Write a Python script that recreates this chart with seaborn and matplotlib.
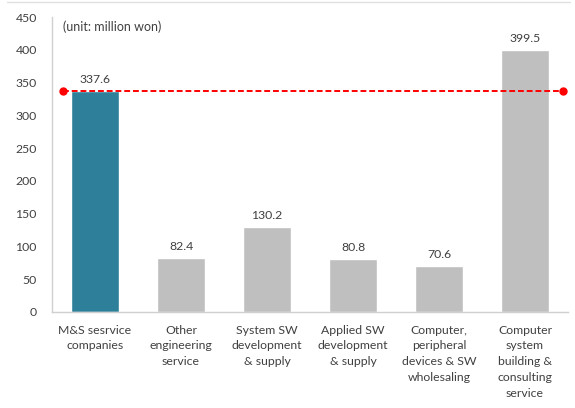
import numpy as np
import pandas as pd
import matplotlib
matplotlib.use('Agg')
import matplotlib.pyplot as plt
from matplotlib.lines import Line2D
import seaborn as sns

categories = ['M&S sesrvice\ncompanies', 'Other\nengineering\nservice',
              'System SW\ndevelopment\n& supply', 'Applied SW\ndevelopment\n& supply',
              'Computer,\nperipheral\ndevices & SW\nwholesaling',
              'Computer\nsystem\nbuilding &\nconsulting\nservice']
values = [337.6, 82.4, 130.2, 80.8, 70.6, 399.5]
bar_colors = ['#2E7F99', '#BFBFBF', '#BFBFBF', '#BFBFBF', '#BFBFBF', '#BFBFBF']
ref_value = 337.6

sns.set_style('white')
plt.rcParams['font.family'] = ['Lato', 'DejaVu Sans']

df = pd.DataFrame({'cat': categories, 'val': values})

fig = plt.figure(figsize=(5.75, 4.08), dpi=100)
ax = fig.add_axes([52/575, 96/408, 516/575, 295/408])

sns.barplot(data=df, x='cat', y='val', hue='cat', palette=bar_colors,
            width=0.56, legend=False, ax=ax, saturation=1)

# reference line (red dashed with dots at ends)
ax.plot([-0.37, 5.44], [ref_value, ref_value], color='#FF0000', linestyle='--',
        linewidth=1.4, dashes=(3, 1.5), zorder=5)
ax.plot([-0.37, 5.44], [ref_value, ref_value], 'o', color='#FF0000',
        markersize=5, zorder=6)

for i, v in enumerate(values):
    ax.text(i, v + 9, f'{v:.1f}', ha='center', va='bottom', fontsize=8.8,
            color='#404040')

ax.text(-0.37, 435, '(unit: million won)', fontsize=9, color='#404040',
        va='center', ha='left')

ax.set_ylim(0, 450)
ax.set_xlim(-0.5, 5.5)
ax.set_yticks(np.arange(0, 451, 50))
ax.tick_params(axis='y', labelsize=8.8, labelcolor='#404040', length=0, pad=11)
ax.tick_params(axis='x', labelsize=8.8, labelcolor='#404040', length=0, pad=9)
for lbl in ax.get_xticklabels():
    lbl.set_linespacing(1.55)
ax.set_xlabel('')
ax.set_ylabel('')
for s in ['top', 'right']:
    ax.spines[s].set_visible(False)
for s in ['left', 'bottom']:
    ax.spines[s].set_color('#D0D0D0')
    ax.spines[s].set_linewidth(1)

fig.add_artist(Line2D([7/575, 570/575], [1 - 2/408, 1 - 2/408],
                      transform=fig.transFigure, color='#E0E0E0', linewidth=1))

fig.savefig('out.png', dpi=100)
